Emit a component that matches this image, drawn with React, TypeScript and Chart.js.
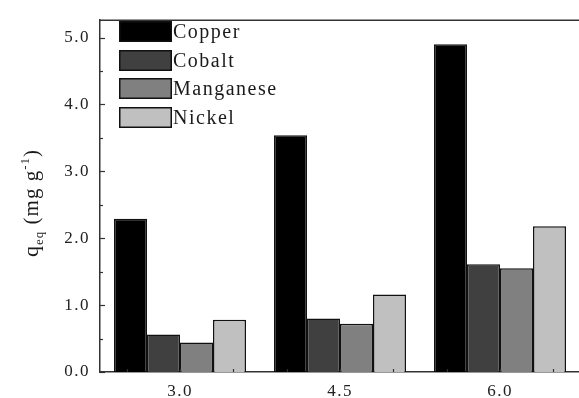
import React, { useEffect, useRef } from "react";
import { Chart, registerables } from "chart.js";

Chart.register(...registerables);

const categories = ["3.0", "4.5", "6.0"];
const seriesNames = ["Copper", "Cobalt", "Manganese", "Nickel"];
const copper = [2.29, 3.54, 4.9];
const cobalt = [0.56, 0.8, 1.61];
const manganese = [0.44, 0.72, 1.55];
const nickel = [0.78, 1.16, 2.18];
const seriesColors = ["#000000", "#404040", "#808080", "#c0c0c0"];
const yTickValues = [0, 1, 2, 3, 4, 5];
const yMin = 0;
const yMax = 5.26;

const SERIF = "'Liberation Serif', 'Times New Roman', serif";

const framePlugin = {
  id: "framePlugin",
  beforeDraw(chart: any) {
    chart.ctx.letterSpacing = "1.5px";
  },
  afterDraw(chart: any) {
    const ctx = chart.ctx;
    const area = chart.chartArea;
    const y = chart.scales.y;
    const x = chart.scales.x;
    ctx.save();
    ctx.letterSpacing = "0px";
    // top frame line
    ctx.strokeStyle = "#333";
    ctx.lineWidth = 1.5;
    ctx.beginPath();
    ctx.moveTo(area.left, area.top);
    ctx.lineTo(area.right, area.top);
    ctx.stroke();
    // y ticks inward
    ctx.lineWidth = 1.2;
    for (let v = 0; v <= 5.0001; v += 0.5) {
      const py = Math.round(y.getPixelForValue(v)) + 0.5;
      const major = Math.abs(v - Math.round(v)) < 1e-6;
      ctx.beginPath();
      ctx.moveTo(area.left, py);
      ctx.lineTo(area.left + (major ? 5 : 3), py);
      ctx.stroke();
    }
    // x minor ticks
    const spacing = x.getPixelForValue(1) - x.getPixelForValue(0);
    for (let i = 0; i < categories.length; i++) {
      const c = x.getPixelForValue(i);
      for (const off of [-spacing / 3, 0, spacing / 3]) {
        const px = Math.round(c + off) + 0.5;
        ctx.beginPath();
        ctx.moveTo(px, area.bottom);
        ctx.lineTo(px, area.bottom - 3);
        ctx.stroke();
      }
    }
    // legend inside plot
    const boxX = 119;
    const boxW = 53;
    const boxH = 21;
    const rowTop = [21, 50, 78, 107];
    ctx.font = `20px ${SERIF}`;
    ctx.textBaseline = "middle";
    ctx.textAlign = "left";
    ctx.letterSpacing = "1.5px";
    chart.data.datasets.forEach((ds: any, i: number) => {
      const t = rowTop[i];
      ctx.fillStyle = ds.backgroundColor;
      ctx.fillRect(boxX, t, boxW, boxH);
      ctx.lineWidth = 1.5;
      ctx.strokeStyle = "#111";
      ctx.strokeRect(boxX + 0.75, t + 0.75, boxW - 1.5, boxH - 1.5);
      ctx.fillStyle = "#1a1a1a";
      ctx.fillText(ds.label, boxX + boxW + 1, t + boxH / 2 + 1);
    });
    // y-axis title with sub/superscript
    ctx.translate(38, 203);
    ctx.rotate(-Math.PI / 2);
    ctx.letterSpacing = "1px";
    ctx.fillStyle = "#1a1a1a";
    ctx.textBaseline = "alphabetic";
    const parts = [
      { t: "q", size: 22, dy: 0 },
      { t: "eq", size: 13, dy: 5 },
      { t: " (mg g", size: 21, dy: 0 },
      { t: "-1", size: 13, dy: -9 },
      { t: ")", size: 21, dy: 0 },
    ];
    let total = 0;
    for (const p of parts) {
      ctx.font = `${p.size}px ${SERIF}`;
      total += ctx.measureText(p.t).width;
    }
    let cx = -total / 2;
    for (const p of parts) {
      ctx.font = `${p.size}px ${SERIF}`;
      ctx.fillText(p.t, cx, p.dy);
      cx += ctx.measureText(p.t).width;
    }
    ctx.restore();
  },
};

export default function App() {
  const ref = useRef<HTMLCanvasElement | null>(null);
  useEffect(() => {
    document.body.style.margin = "0";
    const canvas = ref.current!;
    const seriesData = [copper, cobalt, manganese, nickel];
    const chart = new Chart(canvas, {
      type: "bar",
      data: {
        labels: categories,
        datasets: seriesNames.map((name, i) => ({
          label: name,
          data: seriesData[i],
          backgroundColor: seriesColors[i],
          borderColor: "#111",
          borderWidth: 1.5,
          categoryPercentage: 0.825,
          barPercentage: 1,
        })),
      },
      options: {
        animation: false,
        responsive: false,
        devicePixelRatio: 1,
        layout: { padding: { top: 14, left: 0, right: 0, bottom: 0 } },
        plugins: { legend: { display: false }, tooltip: { enabled: false } },
        scales: {
          x: {
            grid: { display: false, drawTicks: false, tickLength: 0 },
            border: { display: true, color: "#333", width: 1.5 },
            ticks: {
              color: "#222",
              padding: 9,
              font: { family: SERIF, size: 17 },
            },
            afterFit: (s: any) => {
              s.height = 26;
            },
          },
          y: {
            min: yMin,
            max: yMax,
            grid: { display: false, drawTicks: false, tickLength: 0 },
            border: { display: true, color: "#333", width: 1.5 },
            afterBuildTicks: (s: any) => {
              s.ticks = yTickValues.map((v) => ({ value: v }));
            },
            ticks: {
              color: "#222",
              padding: 10,
              font: { family: SERIF, size: 17 },
              callback: (v: any) => Number(v).toFixed(1),
            },
            afterFit: (s: any) => {
              s.width = 100;
            },
          },
        },
      },
      plugins: [framePlugin],
    });
    return () => chart.destroy();
  }, []);
  return (
    <div
      style={{
        position: "fixed",
        left: 0,
        top: 0,
        width: 579,
        height: 398,
        overflow: "hidden",
        background: "#fff",
      }}
    >
      <canvas ref={ref} width={580} height={398} style={{ display: "block" }} />
    </div>
  );
}
